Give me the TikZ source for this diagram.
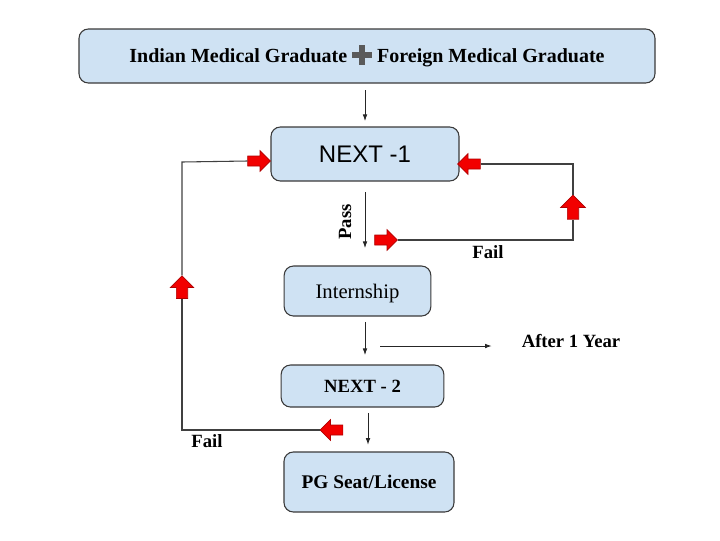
\documentclass[tikz,border=0pt]{standalone}
\usepackage{fontspec}
\setmainfont{Liberation Serif}
\newfontfamily\arialfont{Liberation Sans}
\usetikzlibrary{arrows.meta,shapes.arrows,positioning}

\definecolor{boxblue}{HTML}{CFE2F3}
\definecolor{boxline}{HTML}{3A3A3A}
\definecolor{plusgray}{HTML}{5A5A5A}
\definecolor{redfill}{HTML}{F20000}
\definecolor{redline}{HTML}{B00000}

\newcommand{\heavyplus}{\textcolor{plusgray}{\rlap{\rule[0.26em]{1em}{0.28em}}\hspace{0.36em}\rule[-0.1em]{0.28em}{1em}\hspace{0.36em}}}

\tikzset{
  stagebox/.style={draw=boxline, fill=boxblue, rounded corners=7pt, line width=0.8pt, align=center},
  flow/.style={draw=black!85, line width=0.7pt, -{Latex[length=5pt,width=3.5pt]}},
  loopline/.style={draw=black!75, line width=0.8pt},
  redarrow/.style={single arrow, draw=redline, fill=redfill, line width=0.5pt,
    inner sep=3.5pt, single arrow head extend=4pt, minimum height=17pt},
  steplabel/.style={font=\bfseries\fontsize{14}{16}\selectfont}
}

\begin{document}
\begin{tikzpicture}[x=0.75pt, y=-0.75pt]
  \useasboundingbox (0,0) rectangle (720,540);
  % stages
  \node[stagebox, minimum width=432pt, minimum height=40.5pt, font=\bfseries\fontsize{15}{17}\selectfont]
    (grad) at (367,56) {Indian Medical Graduate \heavyplus{} Foreign Medical Graduate};
  \node[stagebox, minimum width=141pt, minimum height=40.5pt, font=\arialfont\fontsize{18}{20}\selectfont]
    (next1) at (365,154) {NEXT -1};
  \node[stagebox, minimum width=110pt, minimum height=37.5pt, font=\fontsize{15.5}{17}\selectfont,
    text depth=1.5pt, text height=13pt]
    (intern) at (357.5,291) {Internship};
  \node[stagebox, minimum width=122pt, minimum height=31.5pt, font=\bfseries\fontsize{14}{16}\selectfont]
    (next2) at (362.5,386) {NEXT - 2};
  \node[stagebox, minimum width=127.5pt, minimum height=45pt, font=\bfseries\fontsize{14.5}{16}\selectfont]
    (pg) at (369,482) {PG Seat/License};

  % labels
  \node[steplabel, rotate=90] (pass) at (345,222) {Pass};
  \node[steplabel] (failr) at (488,252) {Fail};
  \node[steplabel] (faill) at (207,441) {Fail};
  \node[steplabel] (year) at (571,341) {After 1 Year};

  % main flow
  \draw[flow, shorten <=5pt, shorten >=4pt] (grad.south -| next1.north) -- (next1.north);
  \draw[flow, shorten <=8pt, shorten >=13pt] (next1.south) -- (next1.south |- intern.north);
  \draw[flow, shorten <=4pt, shorten >=7pt] (intern.south -| next1.south) -- (next1.south |- next2.north);
  \draw[flow, shorten <=4pt, shorten >=5pt] (next2.south -| 368,0) -- (368,0 |- pg.north);
  \coordinate (yearstart) at (380,346);
  \draw[flow, shorten >=19pt] (yearstart) -- (year.west |- yearstart);

  % fail loop of NEXT -1
  \node[redarrow] (fr1) at (383.5,240) {};
  \node[redarrow, shape border rotate=90, inner sep=4pt, single arrow head extend=5pt, minimum height=18pt]
    (fr2) at (573,210) {};
  \node[redarrow, shape border rotate=180] (fr3) at (471.5,164) {};
  \coordinate (rc1) at (573,240);
  \coordinate (rc2) at (573,164);
  \draw[loopline] (fr1.east) -- (rc1) -- (fr2.south);
  \draw[loopline] (fr2.north) -- (rc2) -- (fr3.east);

  % fail loop of NEXT - 2
  \node[redarrow, shape border rotate=180] (fl3) at (334,430) {};
  \node[redarrow, shape border rotate=90, inner sep=4pt, single arrow head extend=4.5pt]
    (fl2) at (182,290) {};
  \node[redarrow] (fl1) at (256.5,161) {};
  \coordinate (lc1) at (182,430);
  \coordinate (lc2) at (182,162);
  \draw[loopline] (fl3.west) -- (lc1) -- (fl2.south);
  \draw[loopline] (fl2.north) -- (lc2) -- (fl1.west);
\end{tikzpicture}
\end{document}
